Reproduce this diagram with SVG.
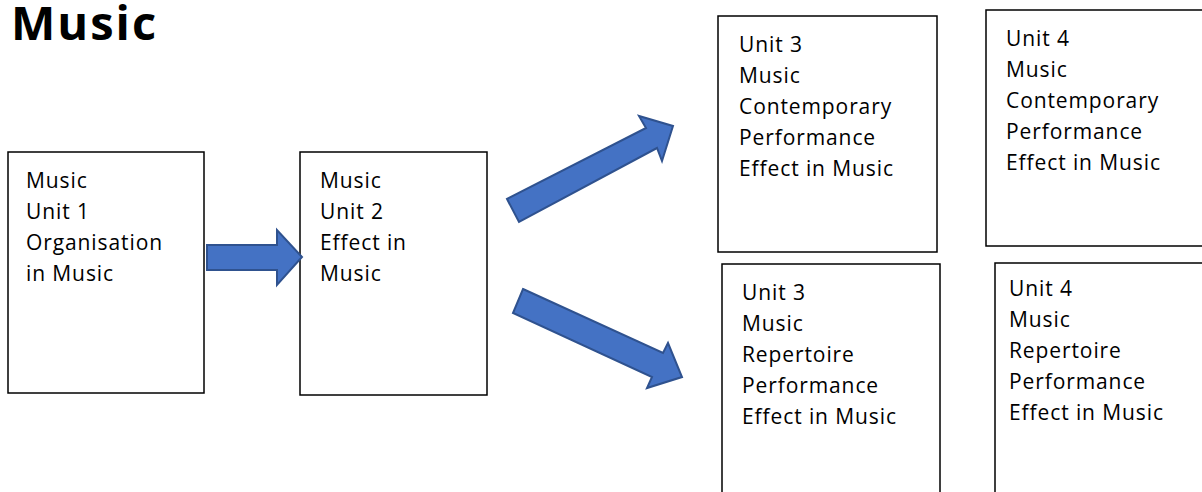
<svg xmlns="http://www.w3.org/2000/svg" width="1202" height="492" viewBox="0 0 1202 492">
  <style>
    .box { fill: #ffffff; stroke: #000000; stroke-width: 1.5; }
    .lbl { font-family: "Open Sans", "Liberation Sans", sans-serif; font-size: 21px; letter-spacing: 0.9px; fill: #000000; }
    .title { font-family: "Open Sans", "Liberation Sans", sans-serif; font-size: 47px; font-weight: bold; letter-spacing: 2px; fill: #000000; }
    .arrow { fill: #4472C4; stroke: #2F528F; stroke-width: 2; stroke-linejoin: miter; }
  </style>
  <rect width="1202" height="492" fill="#ffffff"/>

  <text class="title" x="11" y="40">Music</text>

  <g id="unit1">
    <rect class="box" x="8" y="152" width="196" height="241"/>
    <text class="lbl" x="26" y="188">Music</text>
    <text class="lbl" x="26" y="219">Unit 1</text>
    <text class="lbl" x="26" y="250">Organisation</text>
    <text class="lbl" x="26" y="281">in Music</text>
  </g>

  <g id="unit2">
    <rect class="box" x="300" y="152" width="187" height="243"/>
    <text class="lbl" x="320" y="188">Music</text>
    <text class="lbl" x="320" y="219">Unit 2</text>
    <text class="lbl" x="320" y="250">Effect in</text>
    <text class="lbl" x="320" y="281">Music</text>
  </g>

  <g id="unit3-contemporary">
    <rect class="box" x="718" y="16" width="219" height="236"/>
    <text class="lbl" x="739" y="52">Unit 3</text>
    <text class="lbl" x="739" y="83">Music</text>
    <text class="lbl" x="739" y="114">Contemporary</text>
    <text class="lbl" x="739" y="145">Performance</text>
    <text class="lbl" x="739" y="176">Effect in Music</text>
  </g>

  <g id="unit4-contemporary">
    <rect class="box" x="986" y="10" width="220" height="236"/>
    <text class="lbl" x="1006" y="46">Unit 4</text>
    <text class="lbl" x="1006" y="77">Music</text>
    <text class="lbl" x="1006" y="108">Contemporary</text>
    <text class="lbl" x="1006" y="139">Performance</text>
    <text class="lbl" x="1006" y="170">Effect in Music</text>
  </g>

  <g id="unit3-repertoire">
    <rect class="box" x="722" y="264" width="218" height="240"/>
    <text class="lbl" x="742" y="300">Unit 3</text>
    <text class="lbl" x="742" y="331">Music</text>
    <text class="lbl" x="742" y="362">Repertoire</text>
    <text class="lbl" x="742" y="393">Performance</text>
    <text class="lbl" x="742" y="424">Effect in Music</text>
  </g>

  <g id="unit4-repertoire">
    <rect class="box" x="995" y="263" width="215" height="240"/>
    <text class="lbl" x="1009" y="296">Unit 4</text>
    <text class="lbl" x="1009" y="327">Music</text>
    <text class="lbl" x="1009" y="358">Repertoire</text>
    <text class="lbl" x="1009" y="389">Performance</text>
    <text class="lbl" x="1009" y="420">Effect in Music</text>
  </g>

  <g id="connectors">
    <polygon class="arrow" points="207,245 277,245 277,230 302,257 277,285 277,270 207,270"/>
    <polygon class="arrow" points="507,199 646,128 639,116 673,126 662,161 657,148 519,222"/>
    <polygon class="arrow" points="523,289 663,353 668,343 682,377 647,388 652,377 513,313"/>
  </g>
</svg>
